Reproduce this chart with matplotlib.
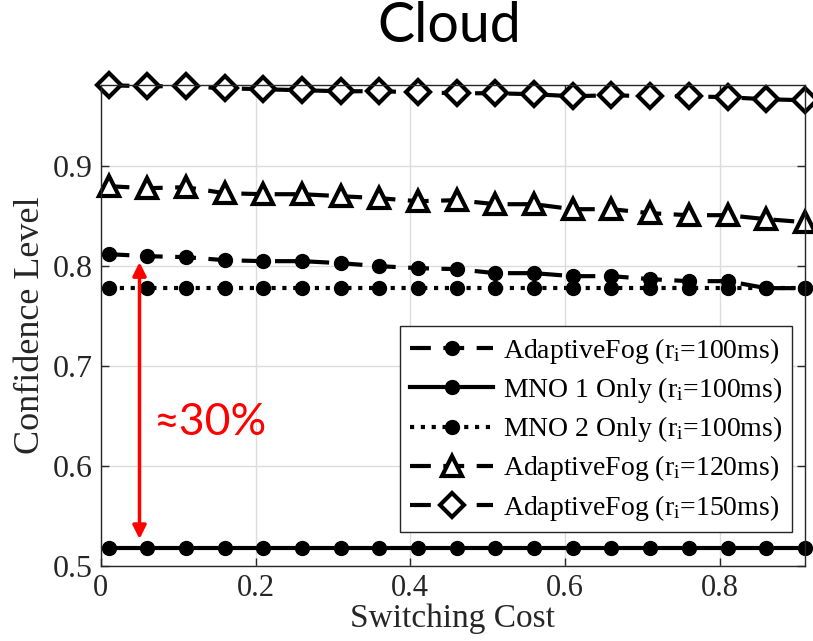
import numpy as np
import matplotlib
matplotlib.use('Agg')
import matplotlib.pyplot as plt

plt.rcParams['mathtext.fontset'] = 'custom'
plt.rcParams['mathtext.rm'] = 'Liberation Serif'
plt.rcParams['mathtext.it'] = 'Liberation Serif:italic'

# switching cost values (x axis)
switching_cost = [0.01, 0.06, 0.11, 0.16, 0.21, 0.26, 0.31, 0.36, 0.41, 0.46,
                  0.51, 0.56, 0.61, 0.66, 0.71, 0.76, 0.81, 0.86, 0.91]

adaptive_100 = [0.812, 0.810, 0.809, 0.806, 0.805, 0.805, 0.803, 0.800, 0.798, 0.797,
                0.793, 0.793, 0.790, 0.790, 0.787, 0.785, 0.785, 0.778, 0.778]
mno1_100 = [0.518] * 19
mno2_100 = [0.778] * 19
adaptive_120 = [0.880, 0.878, 0.879, 0.873, 0.872, 0.872, 0.870, 0.868, 0.865, 0.866,
                0.862, 0.862, 0.857, 0.857, 0.853, 0.851, 0.851, 0.847, 0.844]
adaptive_150 = [0.981, 0.980, 0.980, 0.978, 0.977, 0.976, 0.975, 0.975, 0.974, 0.973,
                0.973, 0.972, 0.970, 0.971, 0.970, 0.970, 0.969, 0.967, 0.966]

labels = [r'AdaptiveFog (r$_\mathrm{i}$=100ms)',
          r'MNO 1 Only (r$_\mathrm{i}$=100ms)',
          r'MNO 2 Only (r$_\mathrm{i}$=100ms)',
          r'AdaptiveFog (r$_\mathrm{i}$=120ms)',
          r'AdaptiveFog (r$_\mathrm{i}$=150ms)']

fig = plt.figure(figsize=(8.13, 6.41), dpi=100)
ax = fig.add_axes([0.124, 0.117, 0.866, 0.75])

lw = 3
dash = (0, (5, 3))
ax.plot(switching_cost, adaptive_100, color='black', lw=lw, linestyle=dash,
        marker='o', markersize=10, label=labels[0], clip_on=False)
ax.plot(switching_cost, mno1_100, color='black', lw=lw, linestyle='-',
        marker='o', markersize=10, label=labels[1], clip_on=False)
ax.plot(switching_cost, mno2_100, color='black', lw=lw, linestyle=(0, (1, 1.6)),
        marker='o', markersize=10, label=labels[2], clip_on=False)
ax.plot(switching_cost, adaptive_120, color='black', lw=lw, linestyle=dash,
        marker='^', markersize=15, markerfacecolor='white', markeredgewidth=3,
        label=labels[3], clip_on=False)
ax.plot(switching_cost, adaptive_150, color='black', lw=lw, linestyle=dash,
        marker='D', markersize=12, markerfacecolor='white', markeredgewidth=3,
        label=labels[4], clip_on=False)

ax.set_xlim(0, 0.91)
ax.set_ylim(0.5, 0.981)
ax.set_xticks([0, 0.2, 0.4, 0.6, 0.8])
ax.set_xticklabels(['0', '0.2', '0.4', '0.6', '0.8'])
ax.set_yticks([0.5, 0.6, 0.7, 0.8, 0.9])
ax.grid(True, color='#dcdcdc', lw=1)
ax.set_axisbelow(True)
ax.tick_params(direction='in', top=True, right=True, length=6, width=1,
               labelsize=23, colors='#262626')
ax.tick_params(axis='x', pad=6, labelsize=22)
ax.tick_params(axis='y', pad=6)
for lab in ax.get_xticklabels() + ax.get_yticklabels():
    lab.set_family('Liberation Serif')
for s in ax.spines.values():
    s.set_color('#262626')
    s.set_linewidth(1)

ax.set_xlabel('Switching Cost', family='Liberation Serif', fontsize=24,
              color='#262626', labelpad=0)
ax.set_ylabel('Confidence Level', family='Liberation Serif', fontsize=26,
              color='#262626', labelpad=4)

leg = ax.legend(loc='lower right', bbox_to_anchor=(0.982, 0.07), fancybox=False,
                framealpha=1, edgecolor='#262626', handlelength=3.0,
                prop={'family': 'Liberation Serif', 'size': 20},
                borderaxespad=0, labelspacing=0.33, handletextpad=0.35,
                borderpad=0.35)
leg.get_frame().set_linewidth(1)

fig.suptitle('Cloud', family='Lato', fontsize=40, y=0.998, x=0.553)

# red double arrow and percentage annotation
ax.annotate('', xy=(0.05, 0.527), xytext=(0.05, 0.804),
            arrowprops=dict(arrowstyle='<|-|>', color='red', lw=2.5,
                            mutation_scale=20, shrinkA=0, shrinkB=0))
ax.text(0.067, 0.644, '≈30%', color='red', family='Lato', fontsize=32,
        va='center', ha='left')

fig.savefig('out.png', dpi=100)
